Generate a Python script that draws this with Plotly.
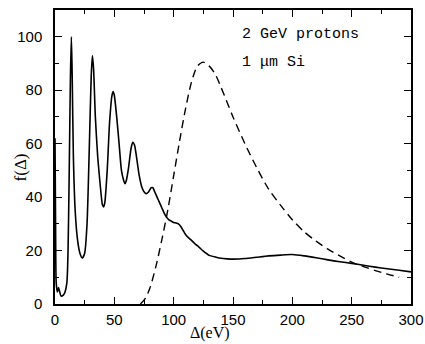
import plotly.graph_objects as go

# Solid curve: f(Δ) for 1 µm Si
solid_x = [0, 0.5, 1, 2, 3, 4, 5, 6, 8, 10, 11, 12, 13, 13.8, 14.5, 15.5, 17, 19, 21, 23, 25, 27, 29, 30.5, 31.5, 32.5,
           34, 36, 38, 40, 41, 42, 44, 46, 48, 49, 50, 52, 54, 56, 58, 59, 60, 62, 64, 65.5, 67, 69, 71, 73, 75,
           77, 79, 81, 82.5, 84, 86, 88, 90, 92, 94, 96, 98, 100, 102, 104, 106, 108, 110, 112, 115, 118, 120,
           122, 125, 128, 130, 135, 140, 145, 150, 160, 170, 180, 190, 200, 210, 220, 230, 240, 250, 260, 270,
           280, 290, 300]
solid_y = [62, 30, 8, 4.5, 6.2, 4.5, 3, 3, 4, 8, 20, 50, 85, 100, 85, 55, 35, 24, 19, 17.2, 19, 30, 60, 85, 93, 88,
           70, 55, 45, 37, 36.3, 38, 50, 68, 78, 79.5, 78, 70, 60, 50, 46, 45, 46, 51, 58, 60.5, 59.5, 54, 48, 44, 42,
           41.3, 42, 43.5, 43.5, 42, 40, 38, 36, 34, 32.5, 31.5, 31, 30.5, 30.3, 30, 29, 27.5, 26, 25, 23.8, 22.5, 21.8,
           21, 19.8, 18.8, 18.2, 17.6, 17.1, 16.9, 16.8, 17, 17.5, 18, 18.3, 18.5, 18, 17.3, 16.5, 15.8, 15.2, 14.5, 13.8,
           13.2, 12.6, 12]

# Dashed curve
dash_x = [72, 76, 80, 85, 90, 95, 100, 105, 110, 115, 120, 125, 130, 135, 140, 150, 160, 170, 180, 190, 200, 210,
          220, 230, 240, 250, 260, 270, 280, 290]
dash_y = [0, 2, 6, 14, 24, 35, 48, 61, 73, 83, 89, 90.5, 89, 86, 81, 70, 60, 51, 43, 37, 31.5, 27, 23.5, 20.5, 18,
          15.7, 14, 12.5, 11.2, 10]

x_ticks = [0, 50, 100, 150, 200, 250, 300]
y_ticks = [0, 20, 40, 60, 80, 100]

fig = go.Figure()
fig.add_trace(go.Scatter(x=solid_x, y=solid_y, mode="lines",
                         line=dict(color="black", width=1.6, shape="spline", smoothing=0.6)))
fig.add_trace(go.Scatter(x=dash_x, y=dash_y, mode="lines",
                         line=dict(color="black", width=1.4, dash="8px,5px", shape="spline", smoothing=0.8)))

axis_common = dict(showline=True, linecolor="black", linewidth=1.5, mirror="ticks", ticks="inside",
                   ticklen=7, tickwidth=1.3, tickcolor="black", showgrid=False, zeroline=False,
                   automargin=False,
                   tickfont=dict(family="Liberation Sans", size=15, color="black"))

fig.update_xaxes(range=[0, 300], tickvals=x_ticks, ticklabelstandoff=1,
                 minor=dict(dtick=25, ticks="inside", ticklen=4, tickwidth=1.2, tickcolor="black"),
                 **axis_common)
fig.update_yaxes(range=[0, 110], tickvals=y_ticks, ticklabelstandoff=8,
                 minor=dict(dtick=10, ticks="inside", ticklen=4, tickwidth=1.2, tickcolor="black"),
                 **axis_common)

# axis titles
fig.add_annotation(x=0.435, y=-0.1, xref="paper", yref="paper", xanchor="center", yanchor="middle",
                   text="Δ(eV)", showarrow=False, borderpad=0,
                   font=dict(family="Liberation Serif", size=16, color="black"))
fig.add_annotation(x=-0.098, y=0.465, xref="paper", yref="paper", xanchor="center", yanchor="middle",
                   text="f(Δ)", showarrow=False, textangle=-90,
                   font=dict(family="Liberation Serif", size=17, color="black"))

fig.add_annotation(x=0.52, y=0.915, xref="paper", yref="paper", xanchor="left", yanchor="middle",
                   text="2 GeV protons", showarrow=False,
                   font=dict(family="Liberation Mono", size=15, color="black"))
fig.add_annotation(x=0.52, y=0.823, xref="paper", yref="paper", xanchor="left", yanchor="middle",
                   text="1 μm Si", showarrow=False,
                   font=dict(family="Liberation Mono", size=15, color="black"))

fig.update_layout(width=425, height=344, margin=dict(l=55, r=14, t=10, b=40),
                  paper_bgcolor="white", plot_bgcolor="white", showlegend=False)

fig.write_html("out.html")
